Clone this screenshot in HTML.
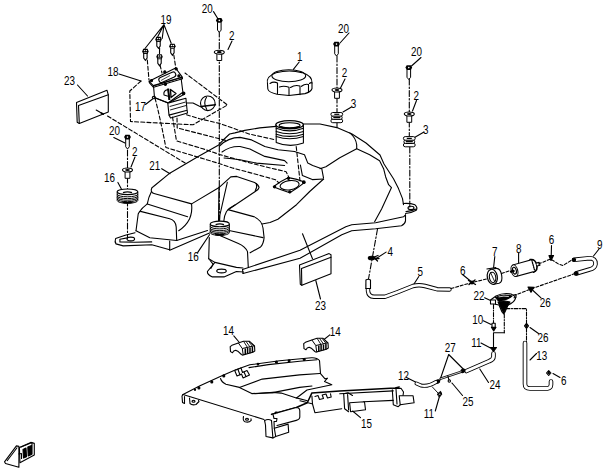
<!DOCTYPE html>
<html><head><meta charset="utf-8">
<style>
html,body{margin:0;padding:0;background:#fff;}
body{width:605px;height:472px;overflow:hidden;}
svg{display:block;}
text{font-family:"Liberation Sans",sans-serif;font-size:13px;fill:#000;}
</style></head>
<body>
<svg width="605" height="472" viewBox="0 0 605 472">
<defs>
  <g id="bolt">
    <path d="M-1.8,2 V9.8 L0,12 L1.8,9.8 V2" fill="#fff" stroke="#000" stroke-width="1"/>
    <path d="M-3.4,0.1 L-2.1,-2.3 L2.1,-2.3 L3.4,0.1 L2.1,2.5 L-2.1,2.5 Z" fill="#000"/>
    <circle cx="0" cy="0.1" r="0.8" fill="#fff"/>
  </g>
  <g id="bolt19">
    <path d="M-1.7,2.5 V7 L0,9.3 L1.7,7 V2.5" fill="#fff" stroke="#000" stroke-width="1.1"/>
    <path d="M-3.2,0.4 L-2.2,-2.2 L2.2,-2.2 L3.2,0.4 L2.2,2.9 L-2.2,2.9 Z" fill="#000"/>
    <ellipse cx="-0.9" cy="-0.4" rx="0.75" ry="0.65" fill="#fff"/>
    <ellipse cx="1" cy="-0.4" rx="0.75" ry="0.65" fill="#fff"/>
    <path d="M-1.6,1.6 H1.6" stroke="#fff" stroke-width="0.6"/>
  </g>
  <g id="clip14">
    <path d="M0.2,5.7 L1.9,4.3 L8.3,1.9 L13.5,0.2 L19.3,0.2 L24.5,4.8 L24.8,10 L22.8,11.2 L12.4,14.1 L11.4,13.5 L8.3,10.6 L5.7,9.2 L3.7,10 L2.5,11.8 L0.5,10.6 Z" fill="#fff" stroke="#000" stroke-width="1.1" stroke-linejoin="round"/>
    <path d="M8.3,1.9 L12.3,7.5 L13.2,13.8 M12.3,7.5 L24.5,4.8" fill="none" stroke="#000" stroke-width="1"/>
    <path d="M13.5,0.2 L17.5,6.5 M16,0.4 L20,6 M18.6,0.4 L22.5,5.4 M21.5,2.2 L24,5" fill="none" stroke="#000" stroke-width="0.9"/>
    <path d="M15.3,7.6 V13.4 M17.6,7.1 V12.8 M20,6.6 V12.2 M22.4,6 V11.5" fill="none" stroke="#000" stroke-width="1.5"/>
  </g>
  <g id="washer">
    <path d="M-2.4,1.5 V8.3 H2.4 V1.5" fill="#fff" stroke="#000" stroke-width="1"/>
    <ellipse cx="0" cy="0" rx="5" ry="2" fill="#fff" stroke="#000" stroke-width="1.1"/>
    <ellipse cx="0" cy="0" rx="2.4" ry="1.1" fill="#000"/>
  </g>
  <g id="grom3">
    <rect x="-5.9" y="6.6" width="11.8" height="3.6" rx="1.8" fill="#fff" stroke="#000" stroke-width="1"/>
    <rect x="-5.4" y="3.3" width="10.8" height="3.6" rx="1.8" fill="#fff" stroke="#000" stroke-width="1"/>
    <rect x="-5.9" y="0" width="11.8" height="3.6" rx="1.8" fill="#fff" stroke="#000" stroke-width="1"/>
    <path d="M-3.5,5.1 H3.5" stroke="#000" stroke-width="1.3"/>
    <path d="M-2.5,1.8 H2.5" stroke="#000" stroke-width="1.2"/>
  </g>
  <g id="grom16">
    <path d="M-10.3,2.8 V11.5 A10.3,2.8 0 0 0 10.3,11.5 V2.8" fill="#fff" stroke="#000" stroke-width="1"/>
    <path d="M-10.3,5.2 A10.3,2.6 0 0 0 10.3,5.2 M-10.3,7 A10.3,2.6 0 0 0 10.3,7 M-10.3,8.6 A10.3,2.6 0 0 0 10.3,8.6 M-10.3,10.1 A10.3,2.6 0 0 0 10.3,10.1" fill="none" stroke="#000" stroke-width="1"/>
    <ellipse cx="0" cy="2.8" rx="10.3" ry="2.8" fill="#fff" stroke="#000" stroke-width="1.1"/>
    <path d="M-4.5,3.6 Q0,2 4.5,3.6" fill="none" stroke="#000" stroke-width="1.3"/>
    <path d="M-5,13.3 Q0,14.3 5,13.3" fill="none" stroke="#000" stroke-width="1.6"/>
  </g>
</defs>

<g fill="none" stroke="#000" stroke-width="1.1" stroke-linejoin="round" stroke-linecap="round">

<!-- ===== dash-dot axes ===== -->
<g stroke-dasharray="6,2,1.5,2">
  <path d="M219.3,31 V226"/>
  <path d="M127.5,150 V168"/>
  <path d="M127.5,177 V238"/>
  <path d="M337,56 V88"/>
  <path d="M337,97 V112"/>
  <path d="M337,122.5 V127"/>
  <path d="M409.3,79 V112"/>
  <path d="M409.3,121 V136.6"/>
  <path d="M409.8,147 V207"/>
  <path d="M377.5,229 L368.5,279"/>
</g>

</g>


<!-- ===== TANK 21 ===== -->
<g id="tank" fill="none" stroke="#000" stroke-width="1.1" stroke-linejoin="round" stroke-linecap="round">
  <!-- top silhouette -->
  <path d="M151.5,191.5 Q150.5,188 153.5,186.5 L168.9,173.8 L197.8,156.8 L218.7,144.9 Q224,139 229.6,134 L234.9,132.9 L244.8,130.4 L259.7,127.9 L276,126.4"/>
  <path d="M303.5,124 L320,124 L338,127.9 L352,134 L366,143 L380,155 L384,164 L393.5,178.7 L398.5,188.6 L402.5,198.6 L403.5,204.6"/>
  <!-- left lobe -->
  <path d="M151.5,191.5 Q152,193 154,193.5 L191.6,203.9 L219.5,187.2"/>
  <path d="M151.5,191.5 Q148.5,197 147.3,203.9 L187.6,216.8"/>
  <path d="M191.6,204 Q192.5,212 189.5,219 Q186,226 178.7,230.7"/>
  <path d="M136,230.7 L138.2,214 Q139,211 141.5,211.6 L169.7,218.8 Q175.7,220.5 176.2,227 L176.7,240.5"/>
  <path d="M147.3,203.9 Q142,208 139.5,211.7"/>
  <path d="M136,230.7 L149.8,237.7 L176.7,240.5"/>
  <path d="M135,232.7 L125.2,235.3 L115.6,238.6 Q114.5,241.5 116,243.9 L123.2,245.9 L151.8,244.7 L169.7,249.7 L169.7,241"/>
  <path d="M119.9,239.2 L127.2,237.9 M119.9,239.2 L119.9,241.9 L134.5,242.2 L151.7,241.9"/>
  <ellipse cx="130.8" cy="239" rx="3.8" ry="1.9"/>
  <path d="M169.7,250.3 L209.5,233"/>
  <path d="M176.7,240.5 L207.5,230.5"/>
  <!-- center lobe -->
  <path d="M219.5,187.2 L230.8,176.9 L236.7,176.4 L254.6,182.4 Q258.6,184.6 259.1,187.4 Q258.7,189.6 255.6,191.3 L228.8,209.2"/>
  <path d="M256.3,183.5 Q257.6,187 255.2,190.8"/>
  <path d="M219,187 L218.5,222"/>
  <path d="M227.3,182.4 L219.9,215 L219.6,221"/>
  <path d="M234.9,205 Q229,208 226.5,211.5 Q224.3,215.5 223.9,220.5"/>
  <path d="M228,209.6 L253.6,216.6 Q261.8,220 263,228 L264.1,237.6 Q263.5,244 260.6,246.9 L250.1,252.8"/>
  <path d="M220.4,235.8 L238.4,243.4 Q245.4,246.5 247.5,251.6 L248.3,267.5"/>
  <path d="M229,230.5 L263,237.6"/>
  <path d="M209.3,237.6 L208.7,258.7"/>
  <path d="M208.7,258.7 L214.9,262.4 L236.4,267.4 L243,268"/>
  <path d="M214.9,262.4 L207.4,271.5 Q207,274.5 212.4,276.9 L224,276.9 L236.4,271.5 L243.5,272"/>
  <path d="M209.8,260 L213.2,264.3 L210.8,268.5"/>
  <ellipse cx="221.5" cy="271" rx="4.8" ry="1.9"/>
  <path d="M242.5,269.5 L300,250.3 L345.8,226.8 L351.7,224.8 L375.6,222.8 L403.5,216.8 L405.5,214.9"/>
  <path d="M243,273.5 L300,258.3 L341.8,234.8 L351.7,230.8 L375.6,228.8 L401.5,225.8 Q405,224 405.5,220.8 L405.5,214.9"/>
  <path d="M242.5,269.5 L243,273.5"/>
  <!-- U saddle right and middle contours -->
    <path d="M262,224 L270,222.5 L277.9,219.2 L296.5,204.7 L309.7,191.5 L323.6,179"/>
  <path d="M300.4,165 L302.4,175.6 L312.3,179.6 L323.6,179"/>
  <!-- upper contours -->
  
  <path d="M219.5,146 Q228,137.5 240,137.4 L251.6,139.9 L264.8,146.5 L278,149.8 L294.5,151.5 L304.5,154.8 L307.8,163.1 L312.7,165.5 L321.8,168.8 L323.5,177.9"/>
    <path d="M222,152 Q230,146 240,146.5 L249.9,149 L264.8,156.4 L284.6,160.6 L287.1,163.1"/>
  <path d="M224,158 Q232,158.5 240,159.8 L256.5,163.1 L284.6,165.5"/>
  <!-- right contour -->
  <path d="M349.8,132.9 Q356,138 356.7,144.9 L356.7,148.8 L339.8,157.8 L325.9,166.7 L319.9,168.7"/>
  <path d="M356.7,148.8 L369.7,154.8 L379.6,160.8 L383.6,168.7 L385.6,176.7 L388.6,184.7 L391.5,187.6 L381.6,208.9 L374.6,221.8"/>
  <!-- right ear -->
  <path d="M403.3,203.5 Q410,203 415,204.8 Q418,207.5 416.3,210.3 Q412,212.8 405.5,213.5"/>
  <path d="M406,211.6 Q412,211 416.3,209"/>
  <ellipse cx="411" cy="207.9" rx="3" ry="1.7"/>
  <!-- pump hole -->
  <path d="M273.3,186.8 Q281,181 288.5,177.6 Q297,179 305,182.2 Q298,188 289.8,192.8 Q281,190 273.3,186.8 Z" fill="#fff"/>
  <circle cx="274.6" cy="186.8" r="1.1" fill="#000"/><circle cx="288.5" cy="178.3" r="1.1" fill="#000"/><circle cx="303.8" cy="182.2" r="1.3" fill="#000"/><circle cx="289.8" cy="191.8" r="1.1" fill="#000"/>
  <ellipse cx="289.6" cy="185.2" rx="9.6" ry="4.6" transform="rotate(-8 289.6 185.2)"/>
  <!-- filler neck -->
  <path d="M276.2,125 V142.4 Q289.6,148 303.4,143 V125" fill="#fff"/>
  <path d="M276.2,128.2 Q289.6,133.5 303.4,128.2 M276.2,131.5 Q289.6,136 303.4,131.5 M276.2,134.2 Q289.6,138.6 303.4,134.2 M276.2,136.6 Q289.6,141 303.4,136.6"/>
  <ellipse cx="289.6" cy="124.7" rx="13.8" ry="4" fill="#fff" stroke-width="1.3"/>
  <path d="M281,127 Q289.6,130.2 298.5,127" stroke-width="1.5"/>
  <ellipse cx="289.6" cy="125.3" rx="10.5" ry="2.6"/>
</g>


<!-- ===== misc parts ===== -->
<g fill="none" stroke="#000" stroke-width="1.1" stroke-linejoin="round" stroke-linecap="round">
  <!-- cap 1 -->
  <path d="M299.2,62 L293.4,69.4"/>
  <path d="M267.5,84 Q265.5,76.5 276,72.8 Q289,69.2 302,72.6 Q312.5,76 312,83 V88.5 Q311,92 305,93.6 L289,95.5 L277,94.2 Q268.5,92.5 267.8,89 Z" fill="#fff"/>
  <ellipse cx="288.8" cy="75.8" rx="16.9" ry="6"/>
  <path d="M270,83.5 Q273.5,81 277.5,83 V93.6 M279.5,87 Q284,85.5 289,87.3 V95.3 M290.5,87.5 Q295,84.5 300,86 V94.6 M301.5,86.3 Q305,83.5 308.5,84.5 V92.3 M309.5,83.5 Q311,82 312,83"/>

  <!-- left panel 23 -->
  <path d="M77.5,85 L87.5,96"/>
  <path d="M76.5,102.4 L107,90.3 L108.3,94.8 L108.3,111.9 L79.3,123.4 L77.2,122.2 Z" fill="#fff"/>
  <path d="M78.5,105.6 L108.3,94.8 M78.5,105.6 L79.3,123.4"/>
  <path d="M96.2,110 L102.6,113.8"/>
  <path d="M101.5,113.2 L103.2,114" stroke-width="1.8"/>

  <!-- lower panel 23 -->
  <path d="M302.5,233.8 L312.5,258.8"/>
  <path d="M315.8,280.5 L320.5,299"/>
  <path d="M299.5,265.1 L329.1,253.6 L331,254.8 L331,273.7 L301.8,285.2 L300.3,284.3 Z" fill="#fff"/>
  <path d="M301.5,268.6 L331,257.3 M301.5,268.6 L301.8,285.2"/>
</g>
<use href="#grom16" transform="translate(219.8,221.1) scale(0.93,1)"/>


<!-- ===== pump assembly 18/17 & guides ===== -->
<g fill="none" stroke="#000" stroke-width="1.1" stroke-linejoin="round" stroke-linecap="round">
  <!-- leaders -->
  <path d="M164,24.6 L145,48.5 M164,24.6 L157.8,36.5 M164,24.6 L162.2,38.5 M164,24.6 L171.2,43.3"/>
  <path d="M159.6,48 L159.5,53.5"/>
  <path d="M119,74 L141,81"/>
  <path d="M145.5,104.5 L153.8,98"/>
  <path d="M161.7,168.7 L170,173.7"/>
  <path d="M117.9,182.4 L121.4,188.9"/>
  <path d="M197.6,252.6 L209.5,234.7"/>
  <path d="M213.5,11.6 L217.6,18.2"/>
  <path d="M232,41 L228,49.5"/>
  <path d="M113.8,137.5 L125,143"/>
  <path d="M135,157 L131,167"/>
  <path d="M349,33 L340,43 "/>
  <path d="M345,79 L340.5,88"/>
  <path d="M351.5,107 L343,112"/>
  <path d="M421,57.5 L411.5,66"/>
  <path d="M416.5,100.5 L412.5,111"/>
  <path d="M424,132 L414.5,137.5"/>
  <!-- dashed hexagon -->
  <path d="M141,81 L129.8,91 L130.5,121.5 L193,124.8 L227.5,105 L185,73" stroke-dasharray="4,2.2"/>
  <!-- dashed guide lines -->
  <g stroke-dasharray="4,2.2">
    <path d="M107.5,116 L185.7,163.4"/>
    <path d="M147.3,60 L149,80"/>
    <path d="M160,65 L162,73"/>
    <path d="M173.8,55 L175.8,68"/>
    <path d="M186.5,114.8 L199.7,118.8 L219.5,123.4 L240,130.7 L249,134 L275.5,139.8"/>
    <path d="M177,118 L177.2,128 L219.5,138.7 L226,140.5"/>
    <path d="M172.5,117 L176.5,140.9 L202.9,148.8 L219.9,154.6 L238.5,159.8 L258.3,165.1 L286.1,171.7 L289,177.6"/>
    <path d="M155,98 L158,110 L161.9,127.6 L165.9,147.5 L218.8,163.4 L231.8,167.8 L251.7,173.1 L275.5,179.7 L279,183"/>
    <path d="M296.2,146.5 L300,181"/>
  </g>
  <!-- float -->
  <path d="M186.5,103 L193,103 L199.5,106.3 L203,107.8"/>
  <circle cx="207.8" cy="103.3" r="7.3" fill="#fff"/>
  <path d="M201,106.5 L215.5,104.8" stroke-width="1.4"/>
  <path d="M206.5,97.3 Q202.8,103 206.8,109.5"/>
</g>
<!-- pump body -->
<g fill="none" stroke="#000" stroke-width="1.1" stroke-linejoin="round">
  <path d="M153.5,85.8 L154.5,97.5 L168,103 L182.9,92.2 L181,77.5 Z" fill="#fff"/>
  <path d="M149.1,81.3 L175.6,68 L182.3,77.1 L153.3,85.6 Z" fill="#fff"/>
  <path d="M149.1,81.3 L149.5,83 L153.5,87.3 L182.5,78.8 L182.3,77.1"/>
  <rect x="-9" y="-2.6" width="18" height="5.2" rx="2.5" transform="translate(167.3,77.2) rotate(-24)"/>
  <path d="M161,80.5 L170,75.5" stroke-width="0.7"/>
  <circle cx="151.5" cy="80.6" r="1.1" fill="#000"/>
  <circle cx="164.8" cy="71.9" r="1.1" fill="#000"/>
  <circle cx="176.2" cy="68.9" r="1.1" fill="#000"/>
  <circle cx="178.9" cy="75.9" r="1.1" fill="#000"/>
  <circle cx="165.4" cy="84.3" r="1.1" fill="#000"/>
  <!-- inner D / triangle -->
  <path d="M164,95 Q163,90.5 168,89.5 L169,96.5 Z"/>
  <path d="M168.2,88.5 L169.3,100" stroke-width="2"/>
  <path d="M170.5,89.5 L176,93.5 L171,97.5 Z" stroke-width="1.3"/>
  <circle cx="183.6" cy="93.3" r="1.3" fill="#000"/>
  <!-- flange 17 -->
  <ellipse cx="153.9" cy="97.6" rx="1.6" ry="1.2" fill="#fff"/>
  <path d="M153.9,97.6 L168.5,103 L184.7,94"/>
  <!-- lower box -->
  <path d="M167.8,103.1 L185.9,98.2 L187.1,110.3 L169,115.1 Z" fill="#fff" stroke-width="1.1"/>
  <path d="M169.7,106.5 L185.7,102 M170.1,110 L186.1,105.5" stroke-width="0.9"/>
  <path d="M169,115.1 L170.5,118 L187.5,113 L187.1,110.3"/>
</g>
<use href="#bolt19" x="145.4" y="51"/>
<use href="#bolt19" x="158.5" y="39"/>
<use href="#bolt19" x="159.5" y="56.4"/>
<use href="#bolt19" x="172.4" y="45.9"/>


<!-- ===== right side hoses & parts ===== -->
<g fill="none" stroke="#000" stroke-width="1.1" stroke-linejoin="round" stroke-linecap="round">
  <!-- clip 4 -->
  <path d="M386.1,252.1 L375.3,259.1"/>
  <ellipse cx="371.5" cy="258" rx="3.2" ry="1.8" fill="#000"/>
  <path d="M373,257.5 L378,255.5 M374,257.5 L377.5,261 M372,258 L379,258.5" stroke-width="1.3"/>
  <!-- hose 5 -->
  <path d="M418.8,276.5 L414,284"/>
  <path d="M368,284 L368,291 Q368.5,296.5 374,296.8 L385,296.8 L398,292 L413,286 Q419,284.5 425,286 L437,289.2 L449.5,289.5" stroke-width="4.4"/>
  <path d="M368,284 L368,291 Q368.5,296.5 374,296.8 L385,296.8 L398,292 L413,286 Q419,284.5 425,286 L437,289.2 L449.5,289.5" stroke="#fff" stroke-width="2.6"/>
  <path d="M365.9,280 Q368,278.5 370.5,280 V288.5 H365.9 Z" fill="#fff"/>
  <path d="M365.9,288.5 H370.5"/>
  <!-- dashed hose line 5 -> 6 -> 7 -->
  <path d="M451,288.5 L472,282.5 L486.5,279" stroke-dasharray="3,1.8"/>
  <path d="M462.5,274.5 L470.5,281"/>
  <path d="M468.5,280.5 L475.5,284.5 M469,284.5 L475,280" stroke-width="1.4"/>
  <circle cx="472" cy="282.5" r="1.4" fill="#000"/>
  <!-- part 7 -->
  <path d="M494.8,256.5 L493.6,267.5"/>
  <g transform="translate(492.3,276.8) rotate(-10)">
    <path d="M0,-7.6 L5.5,-7.6 Q9.5,-7 9.5,0 Q9.5,7 5.5,7.6 L0,7.6" fill="#fff"/>
    <ellipse cx="0" cy="0" rx="5" ry="7.6" fill="#fff" stroke-width="1.2"/>
    <ellipse cx="0.2" cy="0.6" rx="3.2" ry="5.2"/>
    <path d="M-1,-4.5 L1.5,5" stroke-width="0.8"/>
    <path d="M-4,-8.6 L5,-8.6"/>
  </g>
  <path d="M501.5,273.5 L510.5,270.5" stroke-dasharray="3,1.8"/>
  <!-- filter 8 -->
  <path d="M518.6,253.2 L518.6,262.5"/>
  <g transform="translate(514.5,270.7) rotate(-15.5)">
    <path d="M0,-6 L20,-6 L20,6 L0,6 Z" fill="#fff"/>
    <path d="M18,-6.5 Q23,-6 23,0 Q23,6 18,6.5" fill="#fff" stroke-width="1.6"/>
    <path d="M19.5,-5.5 L19.5,5.5" stroke-width="1.3" stroke-dasharray="1.2,1"/>
    <ellipse cx="0" cy="0" rx="3.2" ry="6" fill="#fff"/>
    <ellipse cx="0" cy="0" rx="1.8" ry="3.5"/>
    <path d="M-3.5,0 L-1,0" stroke-width="2.4"/>
    <path d="M23,-1.5 L26,-1.5 L26,1.5 L23,1.5" fill="#fff"/>
  </g>
  <path d="M538.5,264 L550.5,259 L558.5,264 L563,265.5 L572,260" stroke-dasharray="3,1.8"/>
  <path d="M551.5,245.5 L551.2,256.5"/>
  <path d="M549,255.5 L551,260.5 L553.5,255.5 Z" fill="#000" stroke-width="1.2"/>
  <!-- hose 9 -->
  <path d="M599,249 L593.5,256"/>
  <path d="M574,259.8 L589.5,258.2 Q595.8,258.3 595.5,264 Q595,268.3 589.5,269.5 L576,273.5" stroke-width="4.6"/>
  <path d="M574,259.8 L589.5,258.2 Q595.8,258.3 595.5,264 Q595,268.3 589.5,269.5 L576,273.5" stroke="#fff" stroke-width="2.8"/>
  <circle cx="574" cy="259.8" r="1.6" fill="#000"/>
  <circle cx="576.5" cy="273.4" r="1.6" fill="#000"/>
  <!-- dashed 9 -> 26 -> 22 -->
  <path d="M575,273.6 L530.7,289 L515.7,295" stroke-dasharray="3,1.8"/>
  <path d="M528,287 L531,292.3 L534,287.3 Z" fill="#000" stroke-width="1.2"/>
  <path d="M541,297.8 L533,290.5"/>
  <!-- pump 22 -->
  <path d="M484.6,297.8 L491.6,301"/>
  <path d="M490.5,300 L496,296 Q503,292.5 511,294 L514.5,296 L515.5,298.5 Q514,302.5 508,305 L505,312 L503.7,314 L502,312 L499,305 L494,304 L490.5,304 Z" fill="#fff"/>
  <path d="M495.5,297.5 Q503,293.5 512,296 Q507,300.5 498,300.5 Z" fill="#000"/>
  <path d="M499,296.8 Q504,295.5 508.5,296.5" stroke="#fff" stroke-width="0.8"/>
  <path d="M498,302 Q503,300 510,302 L505,310 L503.7,313.5 L502.2,310 Z" fill="#000"/>
  <path d="M491,300 H495.5 V304" />
  <path d="M513.5,295 L516,294.5 L516,297.5 L514,297.8"/>
  <!-- dash-dot verticals below 22 -->
  <g stroke-dasharray="4,1.5,1,1.5">
    <path d="M493.5,304.5 V323"/>
    <path d="M504.3,314 V332.7"/>
    <path d="M506,308.6 H526.5 V342.5"/>
  </g>
  <path d="M504.3,332.7 H493.5 V347.5"/>
  <!-- part 10 -->
  <path d="M483.3,320.7 L491.2,324.5"/>
  <path d="M492,323.3 H495.2 V327.5 H492 Z" fill="#fff"/>
  <path d="M491.4,327.3 L496,327.3 L493.7,331 Z" fill="#000" stroke-width="1.1"/>
  <!-- part 26 lower -->
  <path d="M538.5,333.5 L530,327.5"/>
  <path d="M524.5,325.8 L526.5,323.3 L528.5,325.8 L526.5,328.4 Z" fill="#fff" stroke-width="1.1"/>
  <circle cx="526.5" cy="325.8" r="0.8" fill="#000"/>
  <!-- part 11 upper -->
  <path d="M481,343 L490.5,348"/>
  <path d="M490.5,347.5 L496.5,347.5 L493.5,351.5 Z" fill="#000" stroke-width="1.1"/>
  <!-- hose 13 -->
  <path d="M536.5,353.5 L530,360"/>
  <path d="M525,343 V384 Q525,388.5 530,388.5 L547.5,388.5 Q551,388 551,384.5 L551,381.5" stroke-width="4.6"/>
  <path d="M525,343 V384 Q525,388.5 530,388.5 L547.5,388.5 Q551,388 551,384.5 L551,381.5" stroke="#fff" stroke-width="2.8"/>
  <!-- part 6 lower -->
  <path d="M560,377.5 L553,373.5"/>
  <path d="M546.5,373 L548.7,370.5 L551,373 L548.7,375.5 Z" fill="#fff" stroke-width="1.1"/>
  <circle cx="548.7" cy="373" r="0.8" fill="#000"/>
  <!-- hose 24 -->
  <path d="M488.5,382.5 L479.8,369"/>
  <path d="M493.5,353.5 V356.5 Q493.5,359.5 489.5,361 L466.5,371" stroke-width="4.6"/>
  <path d="M493.5,353.5 V356.5 Q493.5,359.5 489.5,361 L466.5,371" stroke="#fff" stroke-width="2.8"/>
  <!-- 27, 25, 12 -->
  <path d="M448.7,354.5 L439.7,380.7 M448.7,354.5 L463.2,369"/>
  <ellipse cx="463" cy="370.8" rx="2" ry="1.6" fill="#000" transform="rotate(-25 463 370.8)"/>
  <path d="M461,371.8 L440.7,378.7" stroke-width="2.4"/>
  <path d="M461,371.8 L440.7,378.7" stroke="#fff" stroke-width="0.8"/>
  <path d="M447.8,375.8 L449,380"/>
  <circle cx="449.3" cy="381" r="1.2"/>
  <path d="M462.5,395.5 L452,383"/>
  <ellipse cx="437.7" cy="381.5" rx="2" ry="1.6" fill="#000" transform="rotate(-25 437.7 381.5)"/>
  <path d="M406.5,377.5 L415.5,382"/>
  <path d="M436,382 Q428,387 421,385.5 L416.5,383.5" stroke-width="4"/>
  <path d="M436,382 Q428,387 421,385.5 L416.5,383.5" stroke="#fff" stroke-width="2.2"/>
  <path d="M435.3,411 L439.3,397"/>
  <path d="M432.1,386.7 L437.9,392.9" stroke-width="0.9"/>
  <path d="M437.6,393.8 L440.6,391.3 L441.8,394.2 L439.6,397 Z" fill="#000" stroke-width="1"/>
  <circle cx="439.8" cy="394.2" r="0.6" fill="#fff" stroke="none"/>
</g>


<!-- ===== skid plate 15 + clips 14 ===== -->
<g fill="none" stroke="#000" stroke-width="1.1" stroke-linejoin="round" stroke-linecap="round">
  <!-- main plate top surface -->
  <path d="M183,394.5 L200,385.7 L221.9,375.7 L235.8,369.8 L249.8,364.8 L279.6,360.8 L311.4,357.8 Q317,357.5 319.5,360.5 L320.5,373.7 L324.8,378.7 L327.5,378.2 L324.5,381.5 L331.8,384.7 L307,390 L298.5,396.5 L296.3,398" fill="#fff"/>
  <!-- front edge -->
  <path d="M183,394.5 L264,419.5"/>
  <path d="M183,394.5 L182,396 L182.5,402.5 L184.5,403.5 L184.5,396.5"/>
  <!-- left tab -->
  <path d="M189.5,398 L190,403.5 Q192,405.5 196,404.5 L199,401.5 L198.5,400.5"/>
  <ellipse cx="193.5" cy="401.3" rx="1.5" ry="1"/>
  <!-- mid tab -->
  <path d="M243.5,416.5 Q242.5,420.5 245,421.8 Q249,423 251.2,420.3 L251,418.8"/>
  <ellipse cx="247" cy="419.3" rx="1.5" ry="1"/>
  <!-- holes along top edge -->
  <circle cx="198.9" cy="387.9" r="1" fill="#000"/>
  <circle cx="211.8" cy="381.9" r="1" fill="#000"/>
  <circle cx="223.8" cy="375.9" r="1" fill="#000"/>
  <circle cx="195" cy="389.8" r="0.6" fill="#000"/>
  <circle cx="276.4" cy="362" r="1" fill="#000"/><circle cx="289.1" cy="360.8" r="1" fill="#000"/><circle cx="304.2" cy="359.5" r="1" fill="#000"/><circle cx="258" cy="364.2" r="0.8" fill="#000"/>
  <!-- inner raised area lines -->
  <path d="M220.5,378.5 Q221.5,382 225.9,384.3 L239.4,387.4 L251.8,393.6 L272.6,392.6 L299.6,387.4 L312,386"/>
  <path d="M249,367.6 L268.4,364.6 L299.6,361.3 L317,359.8"/>
  <path d="M239.4,387.4 L262.2,379.1 L299.6,374.9 L319.8,373.5"/>
  <path d="M255,393.8 L272.9,392.4 L281.2,393.1 L296.3,397.9 L307.3,400.7"/>
    <!-- slot clip on plate -->
  <path d="M234.7,370.5 L241,368 L242.5,372.5 L247,370.5 L249.5,375 L243,377.9 L241.5,374 L237,376 Z" fill="#fff"/>
  <path d="M238,369.5 L240,375 M244,372 L246,376.5"/>
  <!-- front rail bar -->
  <path d="M271.5,414.4 L296.3,407.5 L307.3,402.7 L311.9,392.9 L339.7,390.9 L395.2,387.9 L399.2,386.9" stroke-width="1.5"/>
  <path d="M339.7,393.8 L393.3,390.9"/>
  <path d="M363.5,401.8 L393.3,400.4"/>
  <path d="M300,400.8 L311.9,403.8"/>
  <!-- left end bracket -->
  <path d="M271.5,414.4 L296.3,407.5 Q299.8,407.5 299.8,411 L299.8,417.2 Q299.5,419.5 296.3,420.4 L277,425.5" fill="#fff"/>
  <path d="M264.6,420.6 L265.5,425 L266,436.5 L272.9,437.9 L275.7,436.5 L288.7,432.3 L288.1,424.1 L274.3,428.2 L275.7,436.5" fill="#fff"/>
  <path d="M271.5,420.5 L272.9,437.9"/>
  <path d="M264.6,420.6 Q268,418.5 271.5,420.5"/>
  <path d="M273,414.5 L274,418.5 L277,418.5 L276.5,421.5 L274,421.5 L274.3,428.2"/>
  <path d="M275,413.5 Q275.5,411.5 277.5,412.5" stroke-width="1.4"/>
  <!-- bracket 1 -->
  <path d="M311.9,396 L312.5,404 L314.9,412.7 L341.7,408.7"/>
  <path d="M315,396.5 L318,395.5 L319.5,399.5 L323.5,398.5 L322.2,395 L326,394 L327.5,398 L331.2,397 L330.5,393.8"/>
  <!-- bracket 2 -->
  <path d="M343.7,393.8 L344.6,408.7 L348.6,411.7"/>
  <path d="M347.6,394.5 L348.6,410"/>
  <path d="M343.7,393.8 L348,392.8 L352.5,395.5"/>
  <path d="M349.6,402.8 L364.5,401.8 L365.5,409.7 L350.6,411.7 Z" fill="#fff"/>
  <!-- right end cap -->
  <path d="M392.3,389.9 L393.3,404.8 L398.2,406.7 L400.2,404.8"/>
  <path d="M396,389 L397,404"/>
  <path d="M393.3,388.5 L401,388.2 L403.5,392 L403,395.8"/>
  <path d="M399.2,395.8 L413.1,395.8 L414.1,402.8 L400.2,404.8 Z" fill="#fff"/>
  <!-- leader 15 -->
  <path d="M360.5,417.6 L352.6,411"/>
  <!-- clip 14 leaders -->
  <path d="M233.8,335.9 L239,342"/>
  <path d="M329.8,334.9 L322.8,340.5"/>
</g>
<use href="#clip14" x="230" y="341"/>
<use href="#clip14" x="303.5" y="338"/>
<!-- bottom-left icon -->
<g fill="none" stroke="#000" stroke-width="1.1" stroke-linejoin="round">
  <path d="M4.5,461.8 L16.4,445.9 L18.9,446.4 L18.9,467.3 L5.5,463.5 Z" fill="#fff"/>
  <path d="M7,461 L17.2,447.5"/>
  <path d="M19.4,447.4 L30.8,442.4 L34.3,443.4 L34.3,454.9 L19.9,462.8 Z" fill="#fff"/>
  <path d="M20.5,447.2 L32,442.6 L32,454.5"/>
  <path d="M23,449.5 L26,448 L26.5,456.8 L23.5,458 Z" fill="#000"/>
  <path d="M27.8,447 L31.5,445.5 L31.5,454.5 L28.2,456 Z" fill="#000"/>
  <path d="M18.5,454 L21.5,453.5 L21.5,459"/>
</g>

<!-- bolts & washers -->
<use href="#bolt" x="219.3" y="20.3"/>
<use href="#washer" x="219.3" y="52.2"/>
<use href="#bolt" x="336.5" y="44"/>
<use href="#washer" x="337" y="90"/>
<use href="#grom3" x="336.8" y="112.5"/>
<use href="#bolt" x="408.8" y="67.5"/>
<use href="#washer" x="409.3" y="114"/>
<use href="#grom3" x="409.3" y="136.6"/>
<use href="#bolt" x="127.5" y="137"/>
<use href="#washer" x="127.5" y="170"/>
<use href="#grom16" x="127.5" y="189"/>

<!-- labels -->
<g>
<text transform="translate(160.5,23.5) scale(0.76,1)">19</text>
<text transform="translate(201.7,13) scale(0.76,1)">20</text>
<text transform="translate(229,40) scale(0.76,1)">2</text>
<text transform="translate(297,61) scale(0.76,1)">1</text>
<text transform="translate(338,33) scale(0.76,1)">20</text>
<text transform="translate(341.7,76.5) scale(0.76,1)">2</text>
<text transform="translate(350.7,108.3) scale(0.76,1)">3</text>
<text transform="translate(411,56.2) scale(0.76,1)">20</text>
<text transform="translate(413.6,100) scale(0.76,1)">2</text>
<text transform="translate(423,134) scale(0.76,1)">3</text>
<text transform="translate(64,85) scale(0.76,1)">23</text>
<text transform="translate(107.5,76) scale(0.76,1)">18</text>
<text transform="translate(135,111) scale(0.76,1)">17</text>
<text transform="translate(109,135) scale(0.76,1)">20</text>
<text transform="translate(132,156) scale(0.76,1)">2</text>
<text transform="translate(104,182) scale(0.76,1)">16</text>
<text transform="translate(149.2,169.5) scale(0.76,1)">21</text>
<text transform="translate(187.7,261.25) scale(0.76,1)">16</text>
<text transform="translate(315,310) scale(0.76,1)">23</text>
<text transform="translate(387.5,256.25) scale(0.76,1)">4</text>
<text transform="translate(417.5,276.25) scale(0.76,1)">5</text>
<text transform="translate(460,275) scale(0.76,1)">6</text>
<text transform="translate(492,255.5) scale(0.76,1)">7</text>
<text transform="translate(516,253) scale(0.76,1)">8</text>
<text transform="translate(548.7,244) scale(0.76,1)">6</text>
<text transform="translate(597,248.6) scale(0.76,1)">9</text>
<text transform="translate(473.4,300.3) scale(0.76,1)">22</text>
<text transform="translate(539.7,307) scale(0.76,1)">26</text>
<text transform="translate(472.2,324) scale(0.76,1)">10</text>
<text transform="translate(471.2,346.5) scale(0.76,1)">11</text>
<text transform="translate(537.4,341.6) scale(0.76,1)">26</text>
<text transform="translate(536.3,359.6) scale(0.76,1)">13</text>
<text transform="translate(561,385.4) scale(0.76,1)">6</text>
<text transform="translate(444.7,352) scale(0.76,1)">27</text>
<text transform="translate(398,380) scale(0.76,1)">12</text>
<text transform="translate(489.5,389) scale(0.76,1)">24</text>
<text transform="translate(462.6,405.6) scale(0.76,1)">25</text>
<text transform="translate(423.8,417.5) scale(0.76,1)">11</text>
<text transform="translate(222.9,335) scale(0.76,1)">14</text>
<text transform="translate(329.8,336) scale(0.76,1)">14</text>
<text transform="translate(361,428) scale(0.76,1)">15</text>
</g>

</svg>
</body></html>
